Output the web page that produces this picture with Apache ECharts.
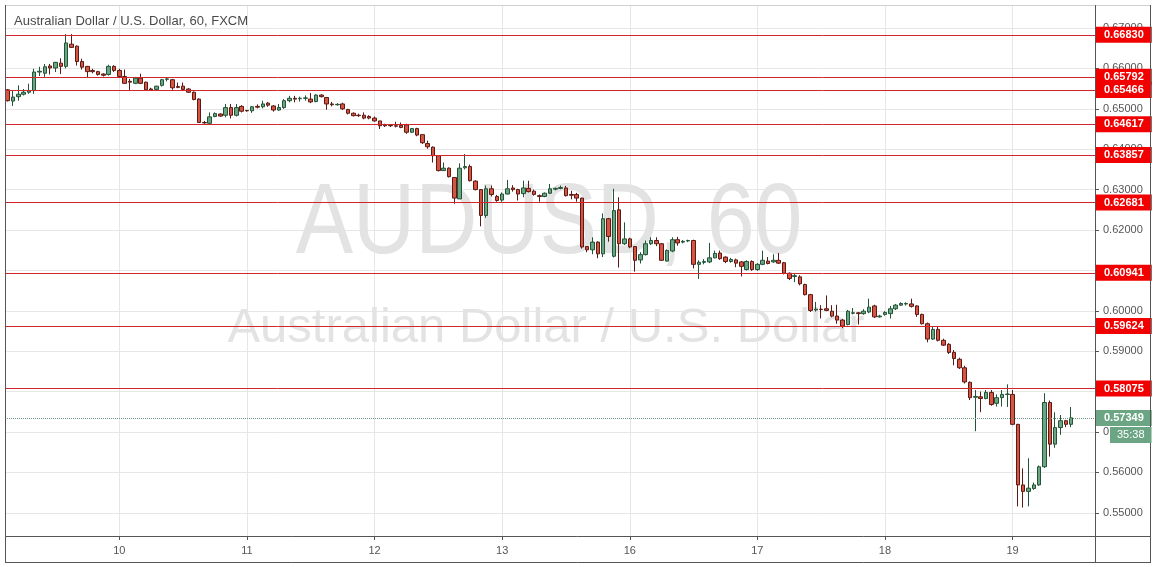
<!DOCTYPE html>
<html><head><meta charset="utf-8">
<script src="https://cdn.jsdelivr.net/npm/echarts@6/dist/echarts.min.js"></script>
<style>html,body{margin:0;padding:0;background:#fff}#c{width:1157px;height:567px}</style>
</head><body><div id="c"></div>
<script>
const dayLabels = ['9','10','11','12','13','16','17','18','19'];
const barsPerDay = [21,24,24,24,24,24,24,24,12];
const firstHour = 3;
const emptySlots = 4;

const opens = [
0.6547,0.6519,0.6530,0.6536,0.6541,0.6545,0.6591,0.6588,0.6606,0.6601,
0.6613,0.6605,0.6660,0.6655,0.6617,0.6605,0.6595,0.6592,0.6586,0.6585,
0.6605,0.6595,0.6580,0.6568,0.6563,0.6576,0.6566,0.6549,0.6548,0.6558,
0.6573,0.6572,0.6555,0.6556,0.6549,0.6541,0.6524,0.6466,0.6464,0.6481,
0.6487,0.6484,0.6503,0.6484,0.6506,0.6496,0.6495,0.6506,0.6505,0.6514,
0.6507,0.6497,0.6503,0.6520,0.6526,0.6525,0.6526,0.6524,0.6518,0.6534,
0.6528,0.6512,0.6510,0.6512,0.6498,0.6489,0.6484,0.6484,0.6481,0.6477,
0.6470,0.6460,0.6459,0.6458,0.6459,0.6460,0.6442,0.6451,0.6436,0.6414,
0.6405,0.6384,0.6347,0.6353,0.6330,0.6277,0.6354,0.6357,0.6321,0.6300,
0.6236,0.6302,0.6283,0.6274,0.6289,0.6304,0.6300,0.6290,0.6303,0.6296,
0.6285,0.6283,0.6291,0.6301,0.6303,0.6304,0.6288,0.6288,0.6279,0.6159,
0.6151,0.6170,0.6141,0.6228,0.6135,0.6250,0.6166,0.6178,0.6159,0.6126,
0.6139,0.6166,0.6174,0.6166,0.6123,0.6148,0.6176,0.6170,0.6173,0.6174,
0.6115,0.6120,0.6121,0.6131,0.6143,0.6133,0.6122,0.6126,0.6121,0.6102,
0.6122,0.6102,0.6115,0.6123,0.6121,0.6125,0.6119,0.6093,0.6085,0.6084,
0.6065,0.6040,0.6002,0.6004,0.6005,0.5999,0.5987,0.5977,0.5966,0.5994,
0.5995,0.5993,0.5997,0.6012,0.5985,0.5991,0.5993,0.6005,0.6014,0.6017,
0.6017,0.6012,0.5991,0.5968,0.5930,0.5954,0.5927,0.5917,0.5897,0.5880,
0.5859,0.5823,0.5786,0.5787,0.5783,0.5798,0.5771,0.5785,0.5793,0.5793,
0.5719,0.5569,0.5553,0.5560,0.5569,0.5614,0.5773,0.5670,0.5711,0.5728,0.5719
];
const closes = [
0.6520,0.6529,0.6536,0.6541,0.6545,0.6591,0.6593,0.6604,0.6601,0.6615,
0.6605,0.6663,0.6652,0.6617,0.6603,0.6592,0.6592,0.6585,0.6583,0.6605,
0.6595,0.6580,0.6563,0.6566,0.6576,0.6563,0.6547,0.6547,0.6556,0.6572,
0.6574,0.6552,0.6553,0.6548,0.6541,0.6523,0.6466,0.6465,0.6480,0.6488,
0.6482,0.6503,0.6484,0.6503,0.6494,0.6495,0.6505,0.6504,0.6512,0.6509,
0.6497,0.6503,0.6520,0.6526,0.6524,0.6526,0.6527,0.6517,0.6534,0.6530,
0.6512,0.6510,0.6511,0.6500,0.6489,0.6483,0.6483,0.6477,0.6477,0.6470,
0.6458,0.6458,0.6458,0.6457,0.6454,0.6442,0.6451,0.6435,0.6416,0.6406,
0.6384,0.6347,0.6353,0.6332,0.6279,0.6353,0.6357,0.6322,0.6300,0.6236,
0.6302,0.6288,0.6273,0.6289,0.6302,0.6300,0.6289,0.6304,0.6295,0.6288,
0.6283,0.6291,0.6302,0.6303,0.6305,0.6285,0.6286,0.6279,0.6158,0.6151,
0.6170,0.6141,0.6228,0.6184,0.6248,0.6166,0.6178,0.6158,0.6125,0.6139,
0.6166,0.6174,0.6166,0.6125,0.6149,0.6176,0.6168,0.6172,0.6174,0.6115,
0.6120,0.6122,0.6131,0.6142,0.6129,0.6122,0.6127,0.6118,0.6110,0.6122,
0.6102,0.6115,0.6125,0.6117,0.6125,0.6118,0.6093,0.6080,0.6087,0.6067,
0.6040,0.6001,0.6004,0.6003,0.6001,0.5987,0.5977,0.5962,0.5999,0.5995,
0.5993,0.5999,0.6009,0.5985,0.5987,0.5996,0.6005,0.6014,0.6018,0.6018,
0.6011,0.5991,0.5968,0.5930,0.5954,0.5927,0.5915,0.5897,0.5882,0.5859,
0.5824,0.5785,0.5788,0.5783,0.5798,0.5768,0.5785,0.5793,0.5794,0.5719,
0.5569,0.5553,0.5561,0.5569,0.5614,0.5773,0.5670,0.5711,0.5728,0.5719,0.5735
];
const lows = [
0.6518,0.6507,0.6520,0.6533,0.6537,0.6537,0.6581,0.6579,0.6585,0.6591,
0.6586,0.6600,0.6651,0.6607,0.6597,0.6578,0.6588,0.6582,0.6580,0.6582,
0.6591,0.6576,0.6562,0.6545,0.6561,0.6561,0.6545,0.6544,0.6544,0.6555,
0.6568,0.6547,0.6551,0.6545,0.6539,0.6521,0.6465,0.6463,0.6463,0.6479,
0.6480,0.6479,0.6476,0.6481,0.6491,0.6493,0.6490,0.6501,0.6501,0.6505,
0.6493,0.6495,0.6500,0.6516,0.6516,0.6518,0.6520,0.6514,0.6516,0.6528,
0.6498,0.6506,0.6508,0.6497,0.6486,0.6481,0.6480,0.6474,0.6474,0.6468,
0.6450,0.6455,0.6455,0.6454,0.6452,0.6438,0.6440,0.6432,0.6413,0.6401,
0.6367,0.6345,0.6346,0.6330,0.6265,0.6277,0.6350,0.6320,0.6298,0.6209,
0.6230,0.6283,0.6270,0.6270,0.6288,0.6295,0.6273,0.6281,0.6293,0.6285,
0.6270,0.6281,0.6289,0.6298,0.6301,0.6283,0.6276,0.6270,0.6154,0.6145,
0.6140,0.6130,0.6133,0.6171,0.6132,0.6107,0.6163,0.6155,0.6097,0.6117,
0.6137,0.6163,0.6160,0.6124,0.6122,0.6145,0.6161,0.6167,0.6170,0.6105,
0.6079,0.6115,0.6118,0.6130,0.6126,0.6118,0.6119,0.6108,0.6085,0.6100,
0.6099,0.6099,0.6113,0.6115,0.6119,0.6116,0.6090,0.6076,0.6071,0.6063,
0.6038,0.5997,0.5998,0.5981,0.5999,0.5984,0.5968,0.5957,0.5964,0.5991,
0.5966,0.5990,0.5994,0.5982,0.5983,0.5988,0.5981,0.6002,0.6012,0.6013,
0.6008,0.5985,0.5966,0.5922,0.5928,0.5924,0.5913,0.5893,0.5865,0.5856,
0.5820,0.5779,0.5702,0.5749,0.5781,0.5765,0.5763,0.5763,0.5762,0.5717,
0.5516,0.5513,0.5516,0.5557,0.5567,0.5611,0.5639,0.5661,0.5693,0.5712,0.5712
];
const highs = [
0.6549,0.6545,0.6558,0.6549,0.6562,0.6599,0.6604,0.6611,0.6611,0.6616,
0.6625,0.6685,0.6685,0.6657,0.6624,0.6606,0.6599,0.6594,0.6588,0.6609,
0.6608,0.6599,0.6597,0.6574,0.6579,0.6587,0.6567,0.6552,0.6557,0.6574,
0.6577,0.6574,0.6565,0.6565,0.6551,0.6543,0.6526,0.6470,0.6491,0.6491,
0.6489,0.6512,0.6512,0.6512,0.6509,0.6497,0.6507,0.6511,0.6520,0.6517,
0.6509,0.6512,0.6524,0.6532,0.6532,0.6530,0.6533,0.6539,0.6536,0.6536,
0.6528,0.6517,0.6514,0.6515,0.6500,0.6491,0.6488,0.6491,0.6484,0.6481,
0.6470,0.6463,0.6462,0.6468,0.6466,0.6463,0.6452,0.6453,0.6436,0.6421,
0.6407,0.6385,0.6367,0.6355,0.6331,0.6365,0.6388,0.6362,0.6323,0.6301,
0.6310,0.6310,0.6287,0.6293,0.6324,0.6311,0.6302,0.6322,0.6322,0.6300,
0.6288,0.6293,0.6314,0.6305,0.6310,0.6309,0.6297,0.6292,0.6280,0.6160,
0.6182,0.6172,0.6241,0.6230,0.6302,0.6281,0.6219,0.6181,0.6160,0.6145,
0.6174,0.6182,0.6182,0.6168,0.6152,0.6182,0.6183,0.6175,0.6176,0.6176,
0.6125,0.6128,0.6168,0.6149,0.6149,0.6135,0.6131,0.6129,0.6123,0.6125,
0.6125,0.6118,0.6149,0.6133,0.6140,0.6143,0.6121,0.6095,0.6093,0.6088,
0.6067,0.6042,0.6022,0.6014,0.6038,0.6014,0.6015,0.5980,0.6002,0.6007,
0.5997,0.6004,0.6030,0.6015,0.5990,0.5999,0.6012,0.6017,0.6021,0.6021,
0.6030,0.6014,0.5993,0.5971,0.5962,0.5962,0.5931,0.5920,0.5903,0.5884,
0.5864,0.5825,0.5804,0.5800,0.5804,0.5804,0.5793,0.5804,0.5818,0.5804,
0.5720,0.5610,0.5635,0.5575,0.5617,0.5796,0.5778,0.5749,0.5742,0.5730,0.5762
];
const levels = [0.66830,0.65792,0.65466,0.64617,0.63857,0.62681,0.60941,0.59624,0.58075];
const lastPrice = 0.57349;
const countdown = '35:38';
const yMin = 0.54426, yMax = 0.67569;

// categories (hourly bars)
const cats = [];
dayLabels.forEach((d, di) => {
  const start = di === 0 ? firstHour : 0;
  for (let h = 0; h < barsPerDay[di]; h++) {
    cats.push(d + ' ' + String(start + h).padStart(2, '0') + ':00');
  }
});
for (let k = 0; k < emptySlots; k++) cats.push('pad' + k);
const candles = opens.map((o, i) => [o, closes[i], lows[i], highs[i]]);
const isDayStart = (idx, val) => typeof val === 'string' && val.endsWith(' 00:00');

const FONT = 'Liberation Sans, Arial, sans-serif';
const UP = '#6ba583', DOWN = '#d75442';
const LEVEL = '#d0262c';

const levelLines = levels.map(v => ({
  yAxis: v,
  lineStyle: { color: LEVEL, width: 1, type: 'solid', opacity: 1 },
  label: {
    show: true, position: 'end', distance: 1,
    formatter: () => v.toFixed(5),
    backgroundColor: '#f20000', color: '#fff', fontWeight: 'bold',
    fontSize: 11, fontFamily: FONT, padding: [3, 8, 2, 8]
  }
}));
levelLines.push({
  yAxis: lastPrice,
  lineStyle: { color: '#6f9a80', width: 1, type: 'dotted', opacity: 1 },
  label: {
    show: true, position: 'end', distance: 1,
    formatter: () => lastPrice.toFixed(5),
    backgroundColor: UP, color: '#fff', fontWeight: 'bold',
    fontSize: 11, fontFamily: FONT, padding: [3, 8, 2, 8]
  }
});

const chart = echarts.init(document.getElementById('c'), null, { renderer: 'canvas' });
chart.setOption({
  animation: false,
  backgroundColor: '#fff',
  textStyle: { fontFamily: FONT },
  title: {
    text: 'Australian Dollar / U.S. Dollar, 60, FXCM',
    left: 9, top: 10,
    textStyle: { fontSize: 13, fontWeight: 'normal', color: '#4a4a4a', fontFamily: FONT }
  },
  grid: { left: 5, right: 62, top: 5, bottom: 31, containLabel: false },
  xAxis: {
    type: 'category', data: cats, boundaryGap: true,
    axisLine: { show: false },
    axisTick: { show: true, alignWithLabel: true, interval: isDayStart, length: 4, lineStyle: { color: '#555' } },
    axisLabel: { interval: isDayStart, formatter: v => v.split(' ')[0], color: '#555', fontSize: 11, margin: 9, fontFamily: FONT },
    splitLine: { show: true, interval: isDayStart, alignWithLabel: true, lineStyle: { color: '#e6e6e6' } }
  },
  yAxis: {
    type: 'value', position: 'right', min: yMin, max: yMax, splitNumber: 12, scale: true,
    axisLine: { show: false },
    axisTick: { show: true, length: 4, lineStyle: { color: '#555' } },
    axisLabel: { formatter: v => v.toFixed(5), color: '#555', fontSize: 11, margin: 8, showMinLabel: false, showMaxLabel: false, fontFamily: FONT },
    splitLine: { show: true, lineStyle: { color: '#e6e6e6' } }
  },
  graphic: [
    { id: 'wm1', type: 'text', z: 1, silent: true, x: 549, y: 225, scaleX: 0.86,
      style: { text: 'AUDUSD, 60', fill: '#e3e3e3', font: '100px ' + FONT, align: 'center', verticalAlign: 'middle' } },
    { id: 'wm2', type: 'text', z: 1, silent: true, x: 546, y: 328,
      style: { text: 'Australian Dollar / U.S. Dollar', fill: '#e3e3e3', font: '49px ' + FONT, align: 'center', verticalAlign: 'middle' } },
    { id: 'fTop', type: 'line', z: 50, silent: true, shape: { x1: 5, y1: 5.5, x2: 1150, y2: 5.5 }, style: { stroke: '#d0d0d0', lineWidth: 1 } },
    { id: 'fLeft', type: 'line', z: 50, silent: true, shape: { x1: 5.5, y1: 5, x2: 5.5, y2: 563 }, style: { stroke: '#555', lineWidth: 1 } },
    { id: 'fBottom', type: 'line', z: 50, silent: true, shape: { x1: 5, y1: 562.5, x2: 1150, y2: 562.5 }, style: { stroke: '#555', lineWidth: 1 } },
    { id: 'fRight', type: 'line', z: 50, silent: true, shape: { x1: 1150.5, y1: 5, x2: 1150.5, y2: 563 }, style: { stroke: '#555', lineWidth: 1 } },
    { id: 'xAxisLine', type: 'line', z: 50, silent: true, shape: { x1: 5, y1: 536.5, x2: 1150, y2: 536.5 }, style: { stroke: '#555', lineWidth: 1 } },
    { id: 'yAxisLine', type: 'line', z: 50, silent: true, shape: { x1: 1095.5, y1: 5, x2: 1095.5, y2: 563 }, style: { stroke: '#555', lineWidth: 1 } }
  ],
  series: [{
    type: 'candlestick',
    data: candles,
    barWidth: 4,
    itemStyle: { color: UP, color0: DOWN, borderColor: '#225437', borderColor0: '#5b1a13', borderWidth: 1 }
  }, {
    type: 'line',
    name: 'levels',
    data: [],
    z: 3,
    symbol: 'none',
    lineStyle: { color: LEVEL },
    itemStyle: { color: LEVEL },
    markLine: {
      silent: true, precision: 5, symbol: ['none', 'none'], animation: false,
      lineStyle: { color: LEVEL, width: 1, type: 'solid' },
      data: levelLines
    }
  }]
});

const yLast = chart.convertToPixel({ yAxisIndex: 0 }, lastPrice);
chart.setOption({
  graphic: [
    { id: 'cd', type: 'text', z: 100, silent: true, x: 1110, y: yLast + 9,
      style: { text: countdown, fill: '#fff', font: '11px ' + FONT, backgroundColor: UP, padding: [3, 7, 2, 7], align: 'left', verticalAlign: 'top' } }
  ]
});
</script>
</body></html>
